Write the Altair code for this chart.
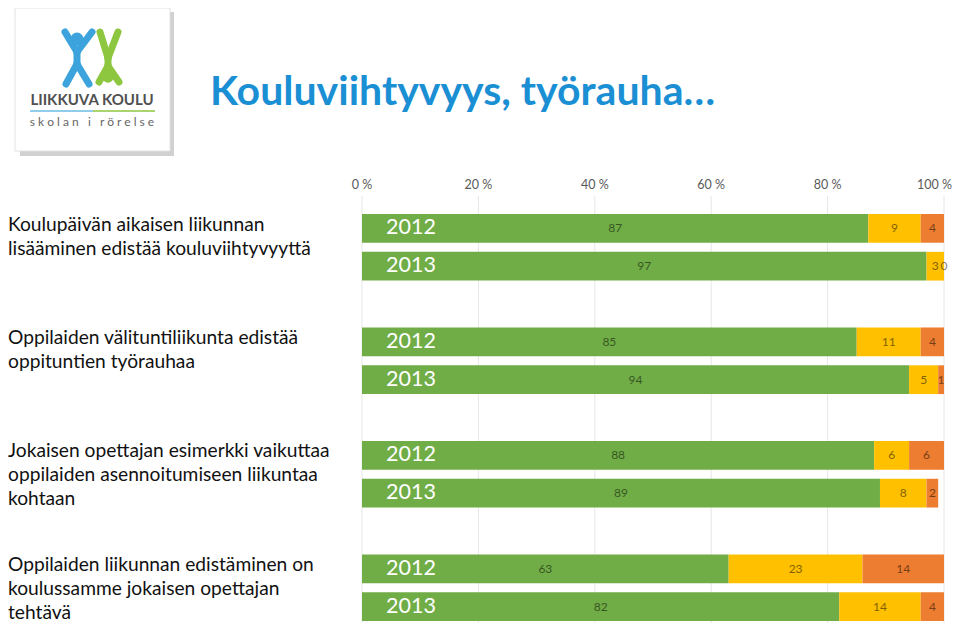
import altair as alt
import pandas as pd

# ---------------- data ----------------
questions = [
    "Koulupäivän aikaisen liikunnan\nlisääminen edistää kouluviihtyvyyttä",
    "Oppilaiden välituntiliikunta edistää\noppituntien työrauhaa",
    "Jokaisen opettajan esimerkki vaikuttaa\noppilaiden asennoitumiseen liikuntaa\nkohtaan",
    "Oppilaiden liikunnan edistäminen on\nkoulussamme jokaisen opettajan\ntehtävä",
]
years = ["2012", "2013"]
segments = ["Samaa mieltä", "En osaa sanoa", "Eri mieltä"]
green_vals = [[87, 97], [85, 94], [88, 89], [63, 82]]
yellow_vals = [[9, 3], [11, 5], [6, 8], [23, 14]]
orange_vals = [[4, 0], [4, 1], [6, 2], [14, 4]]
tick_values = [0, 20, 40, 60, 80, 100]
tick_labels = ["0 %", "20 %", "40 %", "60 %", "80 %", "100 %"]
title_text = "Kouluviihtyvyys, työrauha…"

# ---------------- tables ----------------
rows = []
row_domain = []
for qi, q in enumerate(questions):
    for yi, yr in enumerate(years):
        key = f"q{qi}-{yr}"
        row_domain.append(key)
        for si, (seg, vals) in enumerate(zip(segments, [green_vals, yellow_vals, orange_vals])):
            rows.append({"row": key, "year": yr, "seg": seg, "order": si, "value": vals[qi][yi]})
    if qi < len(questions) - 1:
        row_domain.append(f"gap{qi}")
df = pd.DataFrame(rows)

year_df = pd.DataFrame([{"row": f"q{qi}-{yr}", "year": yr, "zero": 0}
                        for qi in range(len(questions)) for yr in years])
q_df = pd.DataFrame([{"row": f"q{qi}-{years[0]}", "label": q} for qi, q in enumerate(questions)])
tick_df = pd.DataFrame({"tick": tick_values, "label": tick_labels})

FONT = "Lato"
xscale = alt.Scale(domain=[0, 100], range=[354, 936], nice=False, zero=False)
yscale = alt.Scale(domain=row_domain, range=[206, 613], paddingInner=0.24, paddingOuter=0)
cscale = alt.Scale(domain=segments, range=["#70AD47", "#FFC000", "#ED7D31"])

stacked = alt.Chart(df).transform_stack(
    stack="value", groupby=["row"], as_=["start", "end"],
    sort=[alt.SortField("order", order="ascending")]
).transform_calculate(mid="(datum.start + datum.end) / 2")

grid = alt.Chart(tick_df).mark_rule(color="#e6e6e6", strokeWidth=1).encode(
    x=alt.X("tick:Q", scale=xscale, axis=None),
    y=alt.value(188), y2=alt.value(615))

axis_labels = alt.Chart(tick_df).transform_filter("datum.tick < 100").mark_text(
    font=FONT, fontSize=12.5, color="#595959", baseline="middle", align="center"
).encode(x=alt.X("tick:Q", scale=xscale, axis=None), y=alt.value(177), text="label:N")

axis_label_last = alt.Chart(tick_df).transform_filter("datum.tick == 100").mark_text(
    font=FONT, fontSize=12.5, color="#595959", baseline="middle", align="right", dx=8
).encode(x=alt.X("tick:Q", scale=xscale, axis=None), y=alt.value(177), text="label:N")

bars = stacked.mark_bar().encode(
    x=alt.X("start:Q", scale=xscale, axis=None),
    x2="end:Q",
    y=alt.Y("row:N", scale=yscale, axis=None),
    color=alt.Color("seg:N", scale=cscale, legend=None))

values = stacked.mark_text(
    font=FONT, fontSize=12, color="#000000", opacity=0.5, baseline="middle", align="center"
).encode(
    x=alt.X("mid:Q", scale=xscale, axis=None),
    y=alt.Y("row:N", scale=yscale, axis=None, bandPosition=0.5),
    text=alt.Text("value:Q"))

year_labels = alt.Chart(year_df).mark_text(
    font=FONT, fontSize=21.5, color="white", baseline="middle", align="left", dx=24
).encode(
    x=alt.X("zero:Q", scale=xscale, axis=None),
    y=alt.Y("row:N", scale=yscale, axis=None, bandPosition=0.5),
    text="year:N")

q_labels = alt.Chart(q_df).mark_text(
    font=FONT, fontSize=19.2, color="#111111", baseline="top", align="left",
    lineBreak="\n", lineHeight=24, dy=1.5
).encode(
    x=alt.value(0),
    y=alt.Y("row:N", scale=yscale, axis=None, bandPosition=0),
    text="label:N")

one = pd.DataFrame({"t": [title_text]})
title = alt.Chart(one).mark_text(
    font=FONT, fontSize=41, fontWeight="bold", color="#1b8fd4", align="left", baseline="middle"
).encode(x=alt.value(202), y=alt.value(85), text="t:N")

# ---------------- logo (decoration) ----------------
logo_shadow = alt.Chart(one).mark_rect(color="#9a9a9a", opacity=0.45).encode(
    x=alt.value(12), x2=alt.value(166), y=alt.value(4), y2=alt.value(148))
logo_box = alt.Chart(one).mark_rect(color="white", stroke="#e2e2e2", strokeWidth=1).encode(
    x=alt.value(7), x2=alt.value(162), y=alt.value(0), y2=alt.value(143))
blue = "#3da3dc"
greenl = "#8dc63f"
seg_specs = [
    (blue, 69, 44, 57, 24), (blue, 69, 44, 84, 24), (blue, 69, 44, 69, 56),
    (blue, 69, 56, 58, 76), (blue, 69, 56, 81, 76),
    (greenl, 92, 24, 100, 50), (greenl, 110, 24, 100, 50), (greenl, 100, 50, 100, 58),
    (greenl, 100, 58, 91, 74), (greenl, 100, 58, 111, 74),
]
figure_layers = []
for col, x1, y1, x2, y2 in seg_specs:
    figure_layers.append(alt.Chart(one).mark_rule(color=col, strokeWidth=7, strokeCap="round").encode(
        x=alt.value(x1), y=alt.value(y1), x2=alt.value(x2), y2=alt.value(y2)))
figure_layers.append(alt.Chart(one).mark_point(filled=True, color=blue, size=170, opacity=1).encode(
    x=alt.value(69), y=alt.value(31)))
figure_layers.append(alt.Chart(one).mark_point(filled=True, color=greenl, size=130, opacity=1).encode(
    x=alt.value(100), y=alt.value(69)))
logo_text1 = alt.Chart(one).mark_text(
    font=FONT, fontSize=15, fontWeight="bold", color="#505050", align="center", baseline="middle"
).encode(x=alt.value(84), y=alt.value(92), text=alt.value("LIIKKUVA KOULU"))
logo_line1 = alt.Chart(one).mark_rule(color="#6bbbe6", strokeWidth=1.5).encode(
    x=alt.value(22), x2=alt.value(85), y=alt.value(103))
logo_line2 = alt.Chart(one).mark_rule(color=greenl, strokeWidth=1.5).encode(
    x=alt.value(85), x2=alt.value(147), y=alt.value(103))
nb = "\u00a0"
logo_text2 = alt.Chart(one).mark_text(
    font=FONT, fontSize=12, color="#666666", align="center", baseline="middle"
).encode(x=alt.value(84), y=alt.value(114),
         text=alt.value(nb.join("skolan") + nb * 3 + "i" + nb * 3 + nb.join("rörelse")))

chart = alt.layer(
    logo_shadow, logo_box, *figure_layers, logo_text1, logo_line1, logo_line2, logo_text2,
    title, grid, axis_labels, axis_label_last, bars, values, year_labels, q_labels
).properties(
    width=944, height=615, padding=0, autosize=alt.AutoSizeParams(type="none")
).configure_view(stroke=None)

chart.save("out.html", embed_options={"renderer": "svg", "actions": False})
